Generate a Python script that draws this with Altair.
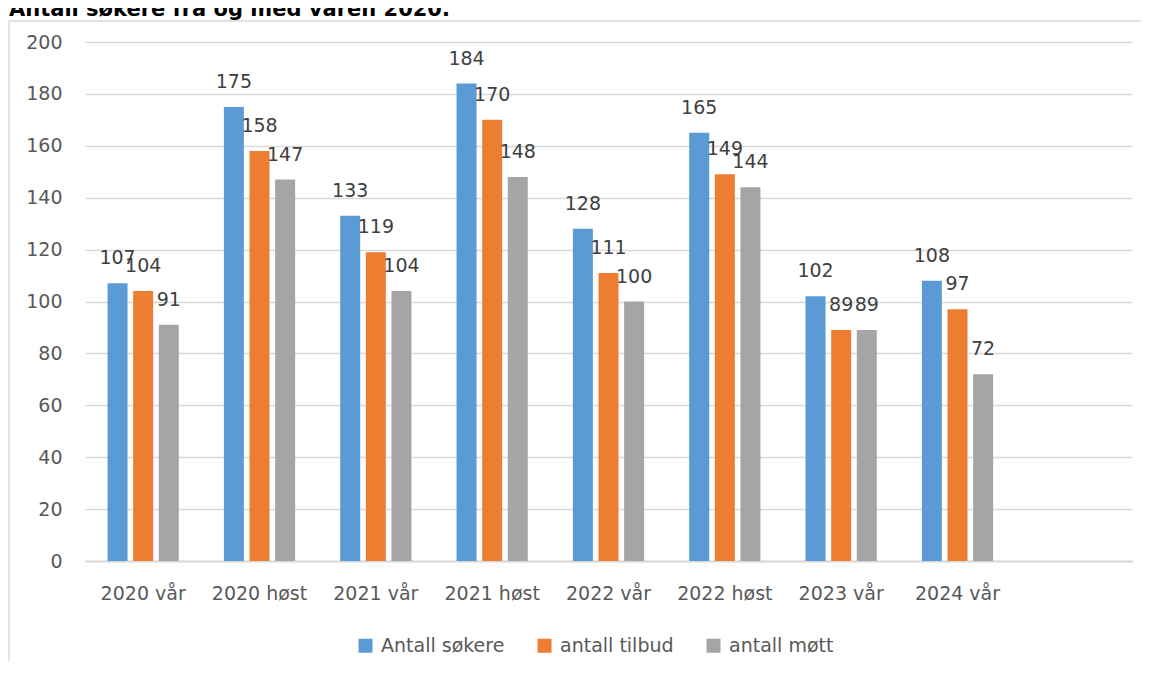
import altair as alt
import pandas as pd

TITLE = ["Antall søkere fra og med våren 2020."]
periods = ["2020 vår", "2020 høst", "2021 vår", "2021 høst", "2022 vår",
           "2022 høst", "2023 vår", "2024 vår"]
x_domain = periods + [""]
series = ["Antall søkere", "antall tilbud", "antall møtt"]
sokere = [107, 175, 133, 184, 128, 165, 102, 108]
tilbud = [104, 158, 119, 170, 111, 149, 89, 97]
mott = [91, 147, 104, 148, 100, 144, 89, 72]
colors = ["#5B9BD5", "#ED7D31", "#A5A5A5"]
y_ticks = [0, 20, 40, 60, 80, 100, 120, 140, 160, 180, 200]

rows = []
for s, vals in zip(series, [sokere, tilbud, mott]):
    for p, v in zip(periods, vals):
        rows.append({"periode": p, "serie": s, "antall": v})
df = pd.DataFrame(rows)

FONT = "DejaVu Sans"
GRID = "#d9d9d9"

x = alt.X(
    "periode:N",
    scale=alt.Scale(domain=x_domain, paddingInner=0, paddingOuter=0),
    axis=alt.Axis(title=None, labelAngle=0, ticks=False, tickSize=0,
                  labelPadding=38, labelBaseline="alphabetic",
                  labelFontSize=19, labelColor="#595959", labelFont=FONT,
                  domainColor=GRID, domainWidth=2, grid=False),
)
xo = alt.XOffset("serie:N", scale=alt.Scale(domain=series, paddingInner=0.22,
                                            paddingOuter=0.88))
y = alt.Y(
    "antall:Q",
    scale=alt.Scale(domain=[0, 200], nice=False),
    axis=alt.Axis(title=None, values=y_ticks, ticks=False, domain=False,
                  labelPadding=23, labelFontSize=19, labelColor="#595959",
                  labelFont=FONT, gridColor=GRID, gridWidth=1.3),
)

base = alt.Chart(df)

bars = base.mark_bar().encode(
    x=x, xOffset=xo, y=y,
    color=alt.Color(
        "serie:N",
        scale=alt.Scale(domain=series, range=colors),
        legend=alt.Legend(title=None, orient="none", legendX=271, legendY=594,
                          direction="horizontal", symbolType="square",
                          symbolSize=196, symbolStrokeWidth=0,
                          labelFontSize=19, labelFont=FONT,
                          labelColor="#595959", labelOffset=6,
                          columnPadding=30),
    ),
)

labels = base.mark_text(dy=-19, baseline="alphabetic", fontSize=19, font=FONT,
                        color="#404040").encode(
    x=x, xOffset=xo, y=y, text="antall:Q"
)

one = alt.Chart(pd.DataFrame({"t": TITLE}))
title = one.mark_text(align="left", baseline="alphabetic", fontSize=21,
                      fontWeight="bold", font=FONT, color="#000000").encode(
    x=alt.value(-76), y=alt.value(-26), text="t:N"
)
frame_top = one.mark_rule(color=GRID, strokeWidth=1.3).encode(
    x=alt.value(-76), x2=alt.value(1100), y=alt.value(-21)
)
frame_left = one.mark_rule(color=GRID, strokeWidth=1.3).encode(
    x=alt.value(-76), y=alt.value(-21), y2=alt.value(700)
)

chart = alt.layer(frame_top, frame_left, title, bars, labels).properties(
    width=1047, height=519,
    autosize=alt.AutoSizeParams(type="none"),
    padding={"left": 77, "top": 34, "right": 9, "bottom": 100},
).configure_view(strokeWidth=0)

chart.save("out.html", embed_options={"renderer": "svg", "actions": False})
